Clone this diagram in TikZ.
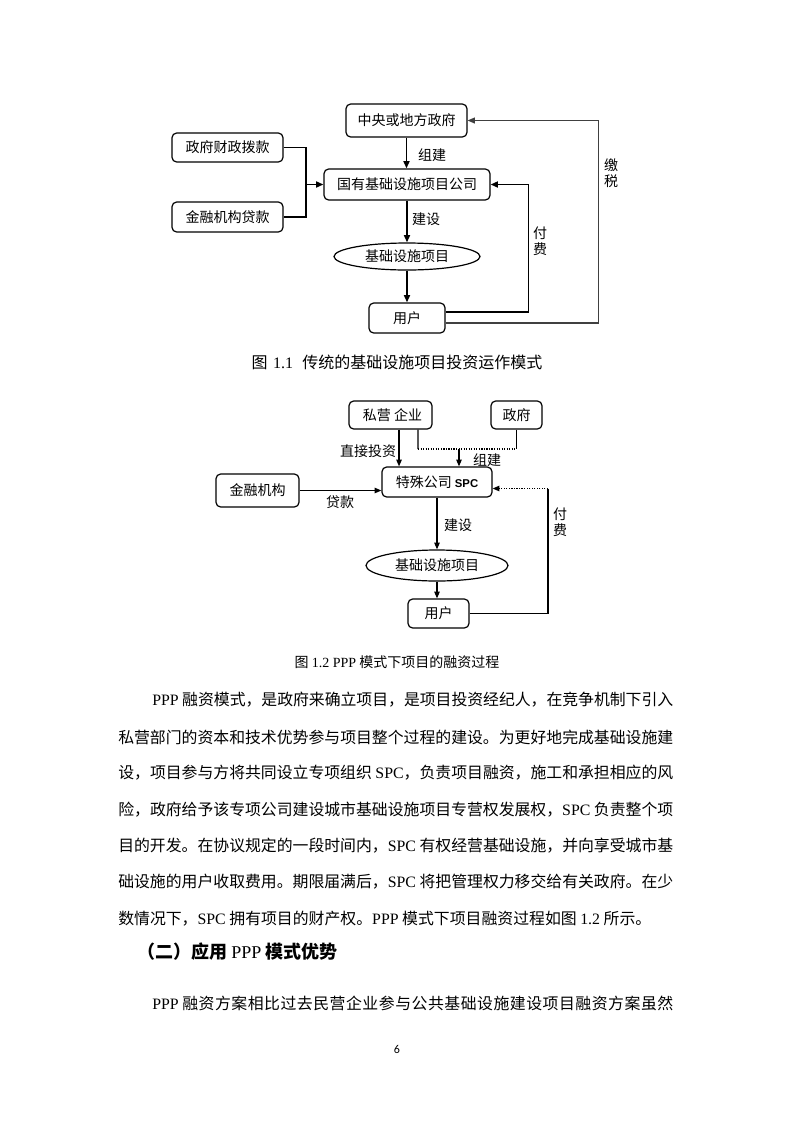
\documentclass[tikz,border=0pt]{standalone}
\usepackage{fontspec}
\setmainfont{Noto Sans CJK SC}
\newfontfamily\lat{Liberation Serif}
\newfontfamily\latsans{Liberation Sans}
\newfontfamily\pagefont{Carlito}
\usetikzlibrary{arrows.meta,shapes.geometric,calc}
\XeTeXlinebreaklocale "zh"
\XeTeXlinebreakskip=0pt plus 1fil minus 0.6pt
\newcommand\jline[2]{\parbox{#1}{\parindent=0pt\parfillskip=0pt\relax #2}}
\newcommand\dfont{\fontsize{10.5pt}{12pt}\selectfont}
\newcommand\bodyfont{\fontsize{11.9pt}{14pt}\selectfont}
\begin{document}
\begin{tikzpicture}[x=0.75pt,y=-0.75pt,
  box/.style={draw,rounded corners=3.5pt,line width=0.9pt,inner sep=0pt,font=\dfont},
  ell/.style={draw,ellipse,line width=0.9pt,inner sep=0pt,font=\dfont},
  lbl/.style={font=\dfont,inner sep=0pt},
  vlbl/.style={font=\fontsize{10.5pt}{12pt}\selectfont,inner sep=0pt,align=center},
  a1/.style={line width=1.3pt,-{Triangle[length=5.5pt,width=4.5pt]}},
  l1/.style={line width=1.3pt},
  tax/.style={line width=0.8pt,black!75,-{Triangle[length=5.5pt,width=4.5pt]}},
  a2/.style={line width=0.9pt,-{Triangle[length=5pt,width=4pt]}},
  l2/.style={line width=0.9pt},
  bodyline/.style={anchor=west,inner sep=0pt,font=\bodyfont}
]
\useasboundingbox[fill=white] (0,0) rectangle (793,1122);

% ---------- Figure 1.1 ----------
\node[box,minimum width=90.75pt,minimum height=24.75pt] (gov) at (406.5,120.5) {中央或地方政府};
\node[box,minimum width=83.25pt,minimum height=21.75pt] (fin1) at (227.5,147.5) {政府财政拨款};
\node[box,minimum width=124.5pt,minimum height=23.25pt] (soe) at (407,184.5) {国有基础设施项目公司};
\node[box,minimum width=83.25pt,minimum height=22.5pt] (fin2) at (227.5,217) {金融机构贷款};
\node[ell,minimum width=109.5pt,minimum height=20.25pt] (ell1) at (407,256.5) {基础设施项目};
\node[box,minimum width=57pt,minimum height=22.5pt] (user1) at (407,318) {用户};

\draw[a1] (gov.south) -- (gov.south |- soe.north);
\coordinate (j1) at (306,184.5);
\draw[l1] (fin1.east) -| (j1) |- (fin2.east);
\draw[a1] (j1) -- (soe.west);
\draw[a1] (soe.south) -- (soe.south |- ell1.north);
\draw[a1] (ell1.south) -- (ell1.south |- user1.north);
\draw[a1] ([yshift=4.5pt]user1.east) -| ([xshift=28.5pt]soe.east) -- (soe.east);
\draw[tax] ([yshift=-3.75pt]user1.east) -| ([xshift=97.9pt]gov.east) -- (gov.east);

\node[lbl] (t1) at (432,155) {组建};
\node[lbl] (t2) at (426,219) {建设};
\node[vlbl] (t3) at (540,241) {付\\费};
\node[vlbl] (t4) at (611,173) {缴\\税};

\node[font=\fontsize{12pt}{14pt}\selectfont,inner sep=0pt] (cap1) at (397,362) {图\hspace{4pt}{\lat 1.1}\hspace{7pt}传统的基础设施项目投资运作模式};

% ---------- Figure 1.2 ----------
\node[box,minimum width=62.25pt,minimum height=21pt] (pe) at (390.5,415) {\hspace{3pt}私营 企业};
\node[box,minimum width=38.25pt,minimum height=21pt] (gov2) at (516.5,415) {政府};
\node[box,minimum width=82.5pt,minimum height=22.5pt] (spc) at (437,482) {特殊公司 {\latsans\bfseries\fontsize{8.5pt}{10pt}\selectfont SPC}};
\node[box,minimum width=62.25pt,minimum height=24.75pt] (fin) at (257.5,490.5) {金融机构};
\node[ell,minimum width=106.5pt,minimum height=23.25pt] (ell2) at (437,565.5) {基础设施项目};
\node[box,minimum width=45.75pt,minimum height=21.75pt] (user2) at (438.5,613.5) {用户};

\coordinate (p1) at ([xshift=6.4pt]pe.south);
\draw[a2] (p1) -- (p1 |- spc.north);
\coordinate (p2) at ([xshift=20.6pt]pe.south);
\coordinate (h1) at (418,449);
\coordinate (h2) at (516.5,449);
\draw[l2] (p2) -- (h1);
\draw[l2,densely dotted] (h1) -- (h2);
\draw[l2] (gov2.south) -- (h2);
\coordinate (h3) at (459,449);
\draw[a2] (h3) -- (h3 |- spc.north);
\draw[a2] (fin.east) -- (fin.east -| spc.west);
\draw[a2] (spc.south) -- (ell2.north);
\draw[a2] (ell2.south) -- (ell2.south |- user2.north);
\coordinate (f1) at (548,488.5);
\draw[l2] (user2.east) -| (f1);
\draw[a2,densely dotted] (f1) -- (f1 -| spc.east);

\node[lbl] (s1) at (368,451) {直接投资};
\node[lbl] (s2) at (487,460) {组建};
\node[lbl] (s3) at (340,502) {贷款};
\node[lbl] (s4) at (458,525) {建设};
\node[vlbl] (s5) at (560,522) {付\\费};

\node[font=\fontsize{10.5pt}{12pt}\selectfont,inner sep=0pt] (cap2) at (397,662) {图 {\lat 1.2 PPP} 模式下项目的融资过程};

% ---------- Body text ----------
\node[bodyline] (b1) at (152,700) {\jline{390.75pt}{{\lat PPP} 融资模式，是政府来确立项目，是项目投资经纪人，在竞争机制下引入}};
\node[bodyline] (b2) at (118,737) {\jline{416.25pt}{私营部门的资本和技术优势参与项目整个过程的建设。为更好地完成基础设施建}};
\node[bodyline] (b3) at (118,773) {\jline{416.25pt}{设，项目参与方将共同设立专项组织 {\lat SPC}，负责项目融资，施工和承担相应的风}};
\node[bodyline] (b4) at (118,810) {\jline{416.25pt}{险，政府给予该专项公司建设城市基础设施项目专营权发展权，{\lat SPC} 负责整个项}};
\node[bodyline] (b5) at (118,846) {\jline{416.25pt}{目的开发。在协议规定的一段时间内，{\lat SPC} 有权经营基础设施，并向享受城市基}};
\node[bodyline] (b6) at (118,882) {\jline{416.25pt}{础设施的用户收取费用。期限届满后，{\lat SPC} 将把管理权力移交给有关政府。在少}};
\node[bodyline] (b7) at (118,919) {数情况下，{\lat SPC} 拥有项目的财产权。{\lat PPP} 模式下项目融资过程如图 {\lat 1.2} 所示。};

\node[anchor=west,inner sep=0pt,font=\fontsize{13.5pt}{15pt}\selectfont\bfseries] (hd) at (137,952) {（二）应用 {\lat\mdseries PPP} 模式优势};

\node[bodyline] (b8) at (152,1003) {\jline{390.75pt}{{\lat PPP} 融资方案相比过去民营企业参与公共基础设施建设项目融资方案虽然}};

\node[font=\pagefont\fontsize{9pt}{10pt}\selectfont,inner sep=0pt] (pg) at (397,1049) {6};
\end{tikzpicture}
\end{document}
